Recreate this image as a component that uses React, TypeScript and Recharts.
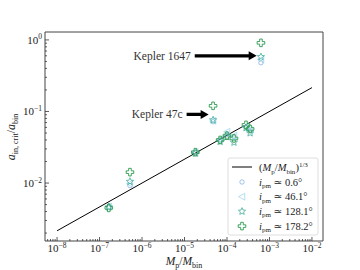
import React from "react";
import { ScatterChart, Scatter, XAxis, YAxis, ReferenceLine } from "recharts";

// mass ratio M_p / M_bin of each system
const massRatio = [1.65e-7, 5.2e-7, 1.8e-5, 4.7e-5, 6.9e-5, 1.0e-4, 1.46e-4, 2.8e-4, 3.5e-4, 6.3e-4];
// a_in,crit / a_bin for each mutual inclination
const inc06 = [0.0046, 0.0092, 0.027, 0.072, 0.04, 0.048, 0.044, 0.06, 0.054, 0.48];
const inc461 = [0.0047, 0.0098, 0.027, 0.074, 0.041, 0.052, 0.046, 0.061, 0.055, 0.53];
const inc1281 = [0.0046, 0.0105, 0.026, 0.076, 0.038, 0.044, 0.037, 0.059, 0.05, 0.58];
const inc1782 = [0.0045, 0.0142, 0.027, 0.12, 0.04, 0.046, 0.042, 0.065, 0.057, 0.91];

// (M_p/M_bin)^(1/3) reference line endpoints
const fitX = [1e-8, 1e-2];
const fitY = [0.002154, 0.2154];

const xMajor = [-8, -7, -6, -5, -4, -3, -2];
const yMajor = [-2, -1, 0];

const COLORS = { c06: "#86b2e0", c461: "#9fd5ef", c1281: "#45ae9c", c1782: "#2b9a4e" };
const FONT = "'Liberation Serif', 'DejaVu Serif', serif";

const toPts = (ys: number[]) => massRatio.map((x, i) => ({ x, y: ys[i] }));
const fitData = fitX.map((x, i) => ({ x, y: fitY[i] }));

function minorTicks(majors: number[], lo: number, hi: number) {
  const out: number[] = [];
  for (let e = majors[0] - 1; e <= majors[majors.length - 1]; e++) {
    for (let m = 1; m < 10; m++) {
      const v = m * Math.pow(10, e);
      if (v >= lo && v <= hi) out.push(v);
    }
  }
  return out;
}

const X_DOMAIN = [5.2e-9, 0.0182];
const Y_DOMAIN = [1.55e-3, 1.29];
const xTicks = minorTicks(xMajor, X_DOMAIN[0], X_DOMAIN[1]);
const yTicks = minorTicks(yMajor, Y_DOMAIN[0], Y_DOMAIN[1]);

const isMajor = (v: number) => Math.abs(Math.log10(v) - Math.round(Math.log10(v))) < 1e-6;

const Pow = ({ x, y, e, anchor }: any) => (
  <text x={x} y={y} textAnchor={anchor} fontFamily={FONT} fontSize={11} fill="#222">
    <tspan>10</tspan>
    <tspan dy={-4.5} fontSize={7.5}>{e < 0 ? "\u2212" + -e : e}</tspan>
  </text>
);

const XTick = (p: any) => {
  const v = p.payload.value;
  const maj = isMajor(v);
  return (
    <g>
      <line x1={p.x} x2={p.x} y1={p.y} y2={p.y - (maj ? 4 : 2)} stroke="#333" strokeWidth={0.8} />
      {maj && <Pow x={p.x} y={p.y + 11} e={Math.round(Math.log10(v))} anchor="middle" />}
    </g>
  );
};

const YTick = (p: any) => {
  const v = p.payload.value;
  const maj = isMajor(v);
  return (
    <g>
      <line x1={p.x} x2={p.x + (maj ? 4 : 2)} y1={p.y} y2={p.y} stroke="#333" strokeWidth={0.8} />
      {maj && <Pow x={p.x - 3} y={p.y + 4} e={Math.round(Math.log10(v))} anchor="end" />}
    </g>
  );
};

const circleShape = (c: string) => (p: any) => (
  <circle cx={p.cx} cy={p.cy} r={2.2} fill="none" stroke={c} strokeWidth={0.8} />
);
const triShape = (c: string) => (p: any) => (
  <polygon
    points={`${p.cx - 3.4},${p.cy} ${p.cx + 2.8},${p.cy - 3.4} ${p.cx + 2.8},${p.cy + 3.4}`}
    fill="none"
    stroke={c}
    strokeWidth={0.8}
  />
);
const starPts = (cx: number, cy: number, R: number, r: number) => {
  const pts: string[] = [];
  for (let i = 0; i < 10; i++) {
    const a = -Math.PI / 2 + (i * Math.PI) / 5;
    const rr = i % 2 === 0 ? R : r;
    pts.push(`${cx + rr * Math.cos(a)},${cy + rr * Math.sin(a)}`);
  }
  return pts.join(" ");
};
const starShape = (c: string) => (p: any) => (
  <polygon points={starPts(p.cx, p.cy, 3.8, 1.7)} fill="none" stroke={c} strokeWidth={0.8} />
);
const plusPts = (cx: number, cy: number, L: number, w: number) =>
  [
    [-w, -L], [w, -L], [w, -w], [L, -w], [L, w], [w, w], [w, L], [-w, L], [-w, w], [-L, w], [-L, -w], [-w, -w],
  ]
    .map(([dx, dy]) => `${cx + dx},${cy + dy}`)
    .join(" ");
const plusShape = (c: string) => (p: any) => (
  <polygon points={plusPts(p.cx, p.cy, 3.8, 1.3)} fill="none" stroke={c} strokeWidth={0.9} />
);

const arrowShape = (label: string) => (p: any) => {
  const { x1, y1, x2, y2 } = p;
  const hl = 8;
  const hw = 4.5;
  const sw = 1.6;
  const pts = [
    [x1, y1 - sw], [x2 - hl, y2 - sw], [x2 - hl, y2 - hw], [x2, y2], [x2 - hl, y2 + hw], [x2 - hl, y2 + sw], [x1, y1 + sw],
  ]
    .map(([a, b]) => `${a},${b}`)
    .join(" ");
  return (
    <g>
      <polygon points={pts} fill="#000" />
      <text x={x1 - 4} y={y1 + 4} textAnchor="end" fontFamily={FONT} fontSize={11.5} fill="#333">
        {label}
      </text>
    </g>
  );
};

export default function App() {
  const legendRows = [
    { key: "c06", label: "0.6\u00b0", shape: circleShape(COLORS.c06) },
    { key: "c461", label: "46.1\u00b0", shape: triShape(COLORS.c461) },
    { key: "c1281", label: "128.1\u00b0", shape: starShape(COLORS.c1281) },
    { key: "c1782", label: "178.2\u00b0", shape: plusShape(COLORS.c1782) },
  ];
  return (
    <div style={{ position: "absolute", left: 0, top: 0, width: 360, height: 270, background: "#fff" }}>
      <ScatterChart width={360} height={270} margin={{ top: 32, right: 37, bottom: 0, left: 0 }}>
        <XAxis
          type="number"
          dataKey="x"
          scale="log"
          domain={X_DOMAIN}
          ticks={xTicks}
          tick={<XTick />}
          tickLine={false}
          tickSize={0}
          tickMargin={0}
          interval={0}
          height={29}
          allowDataOverflow
          axisLine={{ stroke: "#444", strokeWidth: 1 }}
        />
        <YAxis
          type="number"
          dataKey="y"
          scale="log"
          domain={Y_DOMAIN}
          ticks={yTicks}
          tick={<YTick />}
          tickLine={false}
          tickSize={0}
          tickMargin={0}
          interval={0}
          width={45}
          allowDataOverflow
          axisLine={{ stroke: "#444", strokeWidth: 1 }}
        />
        <ReferenceLine
          segment={[{ x: 1.74e-5, y: 0.6 }, { x: 5.0e-4, y: 0.6 }]}
          shape={arrowShape("Kepler 1647")}
        />
        <ReferenceLine
          segment={[{ x: 1.12e-5, y: 0.091 }, { x: 3.7e-5, y: 0.091 }]}
          shape={arrowShape("Kepler 47c")}
        />
        <Scatter
          data={fitData}
          line={{ stroke: "#000", strokeWidth: 1 }}
          shape={() => <g />}
          isAnimationActive={false}
        />
        <Scatter data={toPts(inc06)} shape={circleShape(COLORS.c06)} isAnimationActive={false} />
        <Scatter data={toPts(inc461)} shape={triShape(COLORS.c461)} isAnimationActive={false} />
        <Scatter data={toPts(inc1281)} shape={starShape(COLORS.c1281)} isAnimationActive={false} />
        <Scatter data={toPts(inc1782)} shape={plusShape(COLORS.c1782)} isAnimationActive={false} />
      </ScatterChart>
      <svg
        width={360}
        height={270}
        style={{ position: "absolute", left: 0, top: 0, pointerEvents: "none" }}
        fontFamily={FONT}
      >
        {/* frame top / right */}
        <line x1={45} x2={323} y1={32} y2={32} stroke="#444" strokeWidth={1} />
        <line x1={323} x2={323} y1={32} y2={241} stroke="#444" strokeWidth={1} />
        {/* y label */}
        <text transform="translate(15,137) rotate(-90)" textAnchor="middle" fontSize={12} fill="#222">
          <tspan fontStyle="italic">a</tspan>
          <tspan dy={3} fontSize={8}>in, crit</tspan>
          <tspan dy={-3}>/</tspan>
          <tspan fontStyle="italic">a</tspan>
          <tspan dy={3} fontSize={8}>bin</tspan>
        </text>
        {/* x label */}
        <text x={184} y={265} textAnchor="middle" fontSize={11.5} fill="#222">
          <tspan fontStyle="italic">M</tspan>
          <tspan dy={2.5} fontSize={8}>p</tspan>
          <tspan dy={-2.5}>/</tspan>
          <tspan fontStyle="italic">M</tspan>
          <tspan dy={2.5} fontSize={8}>bin</tspan>
        </text>
        {/* legend */}
        <rect x={228} y={158} width={90} height={77} rx={2} fill="#fff" fillOpacity={0.85} stroke="#d6d6d6" strokeWidth={0.8} />
        <line x1={232} x2={252} y1={167} y2={167} stroke="#000" strokeWidth={1} />
        <text x={259} y={171} fontSize={10.5} fill="#222">
          <tspan>(</tspan>
          <tspan fontStyle="italic">M</tspan>
          <tspan dy={2.5} fontSize={7}>p</tspan>
          <tspan dy={-2.5}>/</tspan>
          <tspan fontStyle="italic">M</tspan>
          <tspan dy={2.5} fontSize={7}>bin</tspan>
          <tspan dy={-2.5}>)</tspan>
          <tspan dy={-4} fontSize={7}>1/3</tspan>
        </text>
        {legendRows.map((r, i) => {
          const y = 182 + i * 14.7;
          const S = r.shape;
          return (
            <g key={r.key}>
              <S cx={242} cy={y} />
              <text x={259} y={y + 3.5} fontSize={10.5} fill="#222">
                <tspan fontStyle="italic">i</tspan>
                <tspan dy={2.5} fontSize={7}>pm</tspan>
                <tspan dy={-2.5}>{" \u2243 " + r.label}</tspan>
              </text>
            </g>
          );
        })}
      </svg>
    </div>
  );
}
